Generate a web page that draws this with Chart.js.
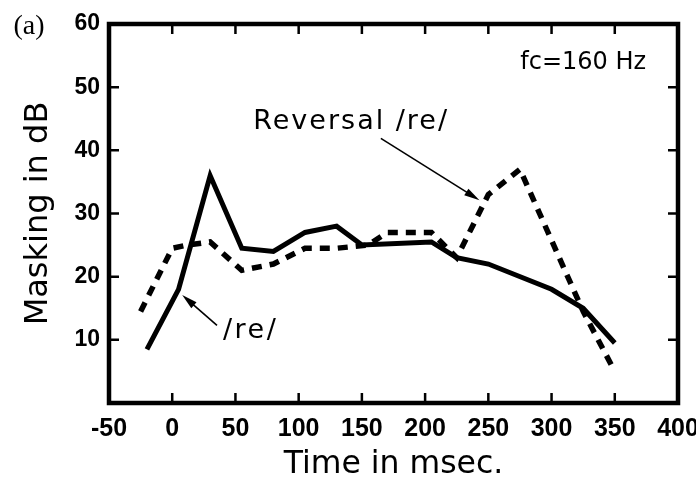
<!DOCTYPE html>
<html>
<head>
<meta charset="utf-8">
<script src="https://cdn.jsdelivr.net/npm/chart.js@4.4.1/dist/chart.umd.min.js"></script>
<style>
  html, body { margin: 0; padding: 0; background: #fff; }
  canvas { display: block; }
</style>
</head>
<body>
<canvas id="chart" width="696" height="488"></canvas>
<script>
// values (time in msec, masking in dB)
const reTime = [-20, 5, 30, 55, 80, 105, 130, 150, 205, 225, 250, 300, 325, 350];
const reMasking = [8.5, 18, 36, 24.5, 24, 27, 28, 25, 25.5, 23, 22, 18, 15, 9.5];

const revTime = [-25, 0, 12, 30, 55, 80, 105, 130, 155, 170, 205, 225, 250, 275, 325, 350];
const revMasking = [14.5, 24.5, 25, 25.5, 21, 22, 24.5, 24.5, 25, 27, 27, 23, 33, 37, 14.5, 5];

const xTicks = [-50, 0, 50, 100, 150, 200, 250, 300, 350, 400];
const yTicks = [0, 10, 20, 30, 40, 50, 60];

const toPoints = (xs, ys) => xs.map((x, i) => ({ x, y: ys[i] }));

// frame + inward ticks, and the in-plot notes with arrows
const framePlugin = {
  id: 'frame',
  afterDraw(chart) {
    const { ctx, chartArea: a, scales } = chart;
    const sx = scales.x, sy = scales.y;
    ctx.save();
    ctx.strokeStyle = '#000';
    ctx.lineWidth = 4.5;
    ctx.strokeRect(a.left, a.top, a.right - a.left, a.bottom - a.top);

    ctx.lineWidth = 2.5;
    const tl = 10;
    xTicks.slice(1, -1).forEach((v) => {
      const px = sx.getPixelForValue(v);
      ctx.beginPath();
      ctx.moveTo(px, a.bottom); ctx.lineTo(px, a.bottom - tl);
      ctx.moveTo(px, a.top); ctx.lineTo(px, a.top + tl);
      ctx.stroke();
    });
    yTicks.slice(1, -1).forEach((v) => {
      const py = sy.getPixelForValue(v);
      ctx.beginPath();
      ctx.moveTo(a.left, py); ctx.lineTo(a.left + tl, py);
      ctx.moveTo(a.right, py); ctx.lineTo(a.right - tl, py);
      ctx.stroke();
    });

    // text notes
    ctx.fillStyle = '#000';
    ctx.textAlign = 'center';
    ctx.textBaseline = 'middle';
    ctx.font = '24px "DejaVu Sans"';
    ctx.fillText('fc=160 Hz', sx.getPixelForValue(325), sy.getPixelForValue(53.8));
    ctx.font = '27px "DejaVu Sans"';
    ctx.letterSpacing = '2px';
    ctx.fillText('Reversal /re/', sx.getPixelForValue(141.5), sy.getPixelForValue(44.5));
    ctx.letterSpacing = '2.5px';
    ctx.fillText('/re/', sx.getPixelForValue(62), sy.getPixelForValue(11.4));
    ctx.letterSpacing = '0px';

    const arrow = (x0, y0, x1, y1) => {
      const p0 = [sx.getPixelForValue(x0), sy.getPixelForValue(y0)];
      const p1 = [sx.getPixelForValue(x1), sy.getPixelForValue(y1)];
      const ang = Math.atan2(p1[1] - p0[1], p1[0] - p0[0]);
      ctx.lineWidth = 1.6;
      ctx.beginPath();
      ctx.moveTo(p0[0], p0[1]);
      ctx.lineTo(p1[0] - 10 * Math.cos(ang), p1[1] - 10 * Math.sin(ang));
      ctx.stroke();
      ctx.beginPath();
      ctx.moveTo(p1[0], p1[1]);
      ctx.lineTo(p1[0] - 16 * Math.cos(ang - 0.25), p1[1] - 16 * Math.sin(ang - 0.25));
      ctx.lineTo(p1[0] - 16 * Math.cos(ang + 0.25), p1[1] - 16 * Math.sin(ang + 0.25));
      ctx.closePath();
      ctx.fill();
    };
    arrow(165, 41.9, 243, 32.1);
    arrow(35.4, 12.3, 7.9, 17.1);

    // panel letter
    ctx.font = '28px "Liberation Serif"';
    ctx.fillText('(a)', 29, 27);
    ctx.restore();
  }
};

new Chart(document.getElementById('chart'), {
  type: 'line',
  data: {
    datasets: [
      {
        label: '/re/',
        data: toPoints(reTime, reMasking),
        borderColor: '#000',
        borderWidth: 5,
        pointRadius: 0,
        tension: 0,
      },
      {
        label: 'Reversal /re/',
        data: toPoints(revTime, revMasking),
        borderColor: '#000',
        borderWidth: 5.5,
        borderDash: [10, 8],
        borderCapStyle: 'butt',
        pointRadius: 0,
        tension: 0,
      },
    ],
  },
  options: {
    responsive: false,
    animation: false,
    layout: { padding: { left: 0, right: 18, top: 24, bottom: 0 } },
    plugins: { legend: { display: false }, tooltip: { enabled: false } },
    scales: {
      x: {
        type: 'linear',
        min: -50,
        max: 400,
        afterBuildTicks: (s) => { s.ticks = xTicks.map((v) => ({ value: v })); },
        afterFit: (s) => { s.height = 85; s.paddingLeft = 0; s.paddingRight = 0; },
        grid: { display: false, drawTicks: false },
        border: { display: false },
        ticks: {
          color: '#000',
          padding: 11,
          maxRotation: 0,
          autoSkip: false,
          font: { family: '"Liberation Sans", sans-serif', size: 25, weight: 'bold' },
        },
        title: {
          display: true,
          text: 'Time in msec.',
          color: '#000',
          padding: { top: 0, bottom: 4 },
          font: { family: '"DejaVu Sans"', size: 31.5 },
        },
      },
      y: {
        min: 0,
        max: 60,
        afterBuildTicks: (s) => { s.ticks = yTicks.map((v) => ({ value: v })); },
        afterFit: (s) => { s.width = 109; },
        grid: { display: false, drawTicks: false },
        border: { display: false },
        ticks: {
          color: '#000',
          padding: 9,
          callback: (v) => (v === 0 ? '' : v),
          font: { family: '"Liberation Sans", sans-serif', size: 23, weight: 'bold' },
        },
        title: {
          display: true,
          text: 'Masking in dB',
          color: '#000',
          padding: { top: 19, bottom: 0 },
          font: { family: '"DejaVu Sans"', size: 32 },
        },
      },
    },
  },
  plugins: [framePlugin],
});
</script>
</body>
</html>
